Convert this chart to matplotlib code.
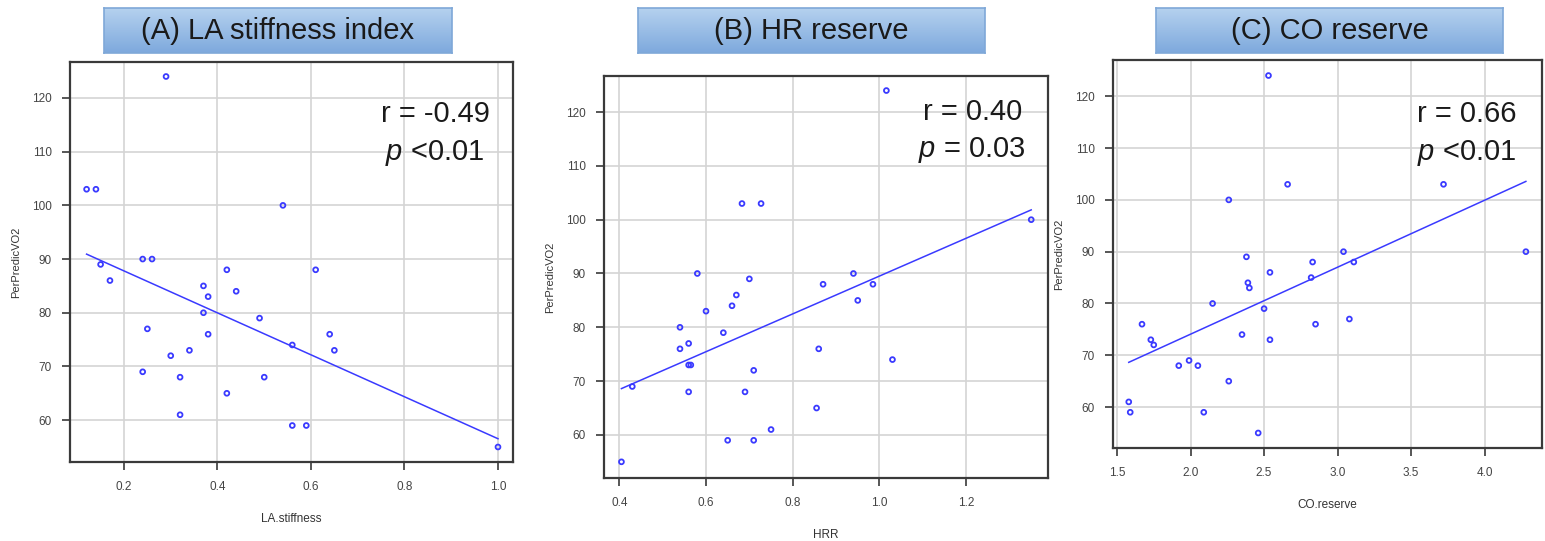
import numpy as np
import matplotlib
matplotlib.use("Agg")
import matplotlib.pyplot as plt

plt.rcParams['font.family'] = ['Liberation Sans', 'DejaVu Sans']
plt.rcParams['mathtext.fontset'] = 'custom'
plt.rcParams['mathtext.rm'] = 'Liberation Sans'
plt.rcParams['mathtext.it'] = 'Liberation Sans:italic'

# PerPredicVO2 values (same patients in every panel)
vo2_a = [124, 103, 103, 100, 90, 90, 89, 88, 88, 86, 85, 83, 84, 80, 79,
         77, 76, 76, 74, 72, 73, 73, 69, 68, 68, 65, 61, 59, 59, 55]
la_stiff = [0.29, 0.12, 0.14, 0.54, 0.24, 0.26, 0.15, 0.42, 0.61, 0.17, 0.37, 0.38, 0.44, 0.37, 0.49,
            0.25, 0.38, 0.64, 0.56, 0.30, 0.34, 0.65, 0.24, 0.32, 0.50, 0.42, 0.32, 0.56, 0.59, 1.00]

vo2_b = [124, 103, 103, 100, 90, 89, 90, 88, 88, 85, 86, 84, 83, 80, 79,
         77, 76, 76, 73, 73, 74, 72, 69, 68, 68, 65, 61, 59, 59, 55]
hrr = [1.016, 0.683, 0.727, 1.35, 0.58, 0.70, 0.94, 0.87, 0.985, 0.95, 0.67, 0.66, 0.60, 0.54, 0.64,
       0.56, 0.54, 0.86, 0.56, 0.565, 1.03, 0.71, 0.43, 0.56, 0.69, 0.855, 0.75, 0.65, 0.71, 0.405]

vo2_c = [124, 103, 103, 100, 90, 90, 89, 88, 88, 86, 85, 84, 83, 80, 79,
         77, 76, 76, 74, 73, 73, 72, 69, 68, 68, 65, 61, 59, 59, 55]
co_res = [2.53, 2.66, 3.72, 2.26, 4.28, 3.04, 2.38, 2.83, 3.11, 2.54, 2.82, 2.39, 2.40, 2.15, 2.50,
          3.08, 1.67, 2.85, 2.35, 1.73, 2.54, 1.75, 1.99, 1.92, 2.05, 2.26, 1.58, 1.59, 2.09, 2.46]

titles = ['(A) LA stiffness index', '(B) HR reserve', '(C) CO reserve']
xlabels = ['LA.stiffness', 'HRR', 'CO.reserve']
r_text = ['r = -0.49', 'r = 0.40', 'r = 0.66']
p_text = ['$p$ <0.01', '$p$ = 0.03', '$p$ <0.01']

fig = plt.figure(figsize=(15.45, 5.41), dpi=100)

panels = [
    dict(x=la_stiff, y=vo2_a, rect=[0.0453, 0.146, 0.2867, 0.7394],
         xlim=(0.0845, 1.032), ylim=(52.2, 126.7), xt=[0.2, 0.4, 0.6, 0.8, 1.0],
         box=[104 / 1545, 0.902, 348 / 1545, 0.0832], tx=0.824, ry=0.87, py=0.772),
    dict(x=hrr, y=vo2_b, rect=[0.391, 0.1165, 0.2874, 0.743],
         xlim=(0.365, 1.389), ylim=(52.0, 126.7), xt=[0.4, 0.6, 0.8, 1.0, 1.2],
         box=[638 / 1545, 0.902, 347 / 1545, 0.0832], tx=0.829, ry=0.91, py=0.816),
    dict(x=co_res, y=vo2_c, rect=[0.7204, 0.1719, 0.2777, 0.7172],
         xlim=(1.473, 4.39), ylim=(52.1, 127.0), xt=[1.5, 2.0, 2.5, 3.0, 3.5, 4.0],
         box=[1156 / 1545, 0.902, 347 / 1545, 0.0832], tx=0.825, ry=0.861, py=0.76),
]

grad = np.linspace(0, 1, 64).reshape(-1, 1)
box_cmap = matplotlib.colors.LinearSegmentedColormap.from_list('box', ['#b6d2ef', '#7ea9dd'])

for i, pn in enumerate(panels):
    ax = fig.add_axes(pn['rect'])
    x = np.array(pn['x'])
    y = np.array(pn['y'])
    ax.scatter(x, y, s=12, facecolors='none', edgecolors='#3a3aff', linewidths=1.3, zorder=3)
    k, b = np.polyfit(x, y, 1)
    xx = np.array([x.min(), x.max()])
    ax.plot(xx, k * xx + b, color='#3a3aff', lw=1.1, zorder=2)

    ax.set_xlim(pn['xlim'])
    ax.set_ylim(pn['ylim'])
    ax.set_xticks(pn['xt'])
    ax.set_xticklabels(['%.1f' % t for t in pn['xt']])
    ax.set_yticks([60, 70, 80, 90, 100, 110, 120])
    ax.grid(True, color='#d4d4d4', lw=1.2)
    ax.set_axisbelow(True)
    for s in ax.spines.values():
        s.set_color('#3a3a3a')
        s.set_linewidth(1.6)
    ax.tick_params(length=6, width=1.2, color='#3a3a3a', labelsize=8.5,
                   labelcolor='#444444')
    ax.tick_params(axis='x', pad=8)
    ax.tick_params(axis='y', pad=7)
    ax.set_xlabel(xlabels[i], fontsize=8.5, color='#333333', labelpad=14)
    ax.set_ylabel('PerPredicVO2', fontsize=8, color='#333333', labelpad=8)

    ax.text(pn['tx'], pn['ry'], r_text[i], transform=ax.transAxes, fontsize=21,
            ha='center', va='center', color='#1a1a1a')
    ax.text(pn['tx'], pn['py'], p_text[i], transform=ax.transAxes, fontsize=21,
            ha='center', va='center', color='#1a1a1a')

    # title box with gradient
    tb = fig.add_axes(pn['box'])
    tb.imshow(grad, cmap=box_cmap, aspect='auto', extent=[0, 1, 0, 1])
    tb.set_xticks([])
    tb.set_yticks([])
    for s in tb.spines.values():
        s.set_color('#7fa8d8')
        s.set_linewidth(1.2)
    tb.text(0.5, 0.48, titles[i], transform=tb.transAxes, fontsize=21,
            ha='center', va='center', color='#1a1a1a')

fig.savefig('out.png', dpi=100)
